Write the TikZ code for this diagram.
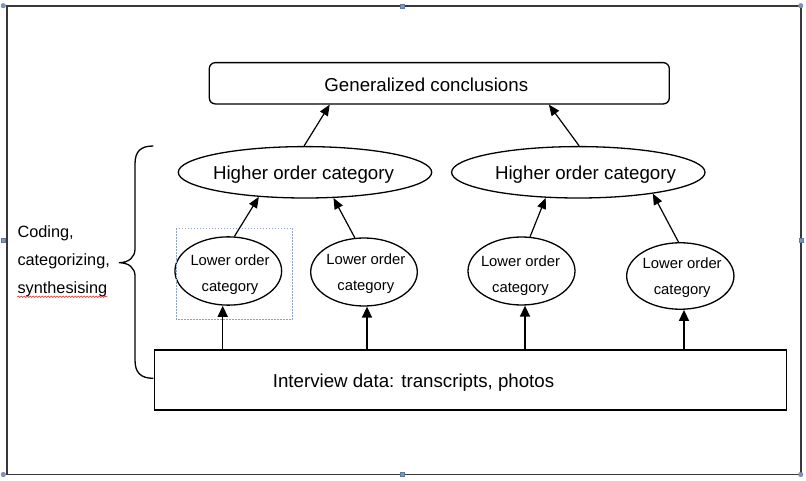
\documentclass[tikz,border=0pt]{standalone}
\usepackage{fontspec}
\setmainfont{Liberation Sans}
\usetikzlibrary{arrows.meta,shapes.geometric,decorations.pathmorphing}
\definecolor{framec}{RGB}{55,55,55}
\definecolor{handlec}{RGB}{125,150,190}
\definecolor{selc}{RGB}{140,160,195}
\definecolor{squig}{RGB}{230,40,40}
\begin{document}
\begin{tikzpicture}[x=1pt,y=-1pt,
  big/.style={font=\fontsize{18.7}{22}\selectfont, inner sep=0pt},
  small/.style={font=\fontsize{14.8}{26}\selectfont, align=center, inner sep=0pt},
  side/.style={font=\fontsize{16.3}{28}\selectfont, align=left, inner sep=0pt},
  hell/.style={ellipse, draw, line width=1.3pt, minimum width=253.4pt, minimum height=51.4pt, inner sep=0pt},
  lell/.style={ellipse, draw, line width=1.3pt, inner sep=0pt},
  arr/.style={line width=1.2pt, -{Triangle[length=11pt,width=9pt]}},
  barr/.style={line width=1.5pt, -{Triangle[length=11pt,width=10pt]}},
  handle/.style={fill=handlec, draw=handlec!80!black, line width=0.3pt}
]
\useasboundingbox (0,0) rectangle (806,481);
\fill[white] (0,0) rectangle (806,481);

% outer frame
\draw[framec, line width=1.8pt] (6.7,5.7) rectangle (800.7,474.5);
% selection handles
\foreach \p in {(3.3,5.7),(800.7,5.7),(800.7,474.5),(3.3,474.5)}{\filldraw[handle] \p circle (2.3pt);}
\foreach \p in {(402.5,5.7),(800.7,240),(402,474.5),(3.3,240)}{\filldraw[handle] \p ++(-2pt,-2pt) rectangle ++(4pt,4pt);}

% top box
\node[draw, rounded corners=6pt, line width=1.3pt, minimum width=460pt, minimum height=41.3pt, inner sep=0pt] (gen) at (439.3,83.3) {};
\node[big, anchor=base] (gentext) at (426.3,92) {Generalized conclusions};

% higher order categories
\node[hell] (H1) at (305,172.3) {};
\node[big, anchor=base] (h1text) at (303.5,179.3) {Higher order category};
\node[hell] (H2) at (578.3,172.3) {};
\node[big, anchor=base] (h2text) at (585.5,179.3) {Higher order category};

% lower order categories
\node[lell, minimum width=106.7pt, minimum height=68.3pt] (E1) at (228.3,271) {};
\node[lell, minimum width=106.6pt, minimum height=68pt] (E2) at (364,272) {};
\node[lell, minimum width=107pt, minimum height=68pt] (E3) at (521.5,271) {};
\node[lell, minimum width=107.3pt, minimum height=66.5pt] (E4) at (680.3,276) {};
\node[small, anchor=north] (t1) at (230,254.2) {Lower order\\category};
\node[small, anchor=north] (t2) at (365.8,253.2) {Lower order\\category};
\node[small, anchor=north] (t3) at (520.5,255.2) {Lower order\\category};
\node[small, anchor=north] (t4) at (682.2,257.5) {Lower order\\category};

% selection box around first lower category
\draw[selc, line width=0.6pt, dash pattern=on 1.5pt off 1.5pt] (176.3,228.3) rectangle (292.7,319.3);

% data box
\node[draw, line width=1.3pt, minimum width=632pt, minimum height=60pt, inner sep=0pt] (data) at (470.7,380) {};
\node[big, anchor=base] (datatext) at (413.5,387.3) {Interview data: transcripts, photos};

% arrows between levels
\draw[arr] (E1.80) -- (H1.208);
\draw[arr] (E2.105) -- (H1.318);
\draw[arr] (E3.76) -- (H2.218);
\draw[arr] (E4.93) -- (H2.344);
\draw[arr] (H1.92) -- (gen.191);
\draw[arr] (H2.88) -- (gen.349);

% arrows from data
\coordinate (b1) at ([xshift=-5.6pt]E1.south);
\coordinate (b2) at ([xshift=3pt]E2.south);
\coordinate (b3) at ([xshift=3.5pt]E3.south);
\coordinate (b4) at ([xshift=3.7pt]E4.south);
\draw[barr] (b1 |- data.north) -- (b1);
\draw[barr] (b2 |- data.north) -- (b2);
\draw[barr] (b3 |- data.north) -- (b3);
\draw[barr] (b4 |- data.north) -- (b4);

% brace and side label
\draw[line width=1.3pt] (153.3,146) .. controls (141,146) and (135,151) .. (135,164)
  -- (135,249) .. controls (135,257) and (129,262.7) .. (119,262.7)
  .. controls (129,262.7) and (135,268) .. (135,276)
  -- (135,360) .. controls (135,373) and (141,378.3) .. (153.3,378.3);
\node[side, anchor=north west] (sidetext) at (17.3,225.4) {Coding,\\categorizing,\\synthesising};
\draw[squig, line width=0.6pt, decorate, decoration={snake, amplitude=0.7pt, segment length=3pt}] (17.3,296.7) -- (107.3,296.7);
\end{tikzpicture}
\end{document}
